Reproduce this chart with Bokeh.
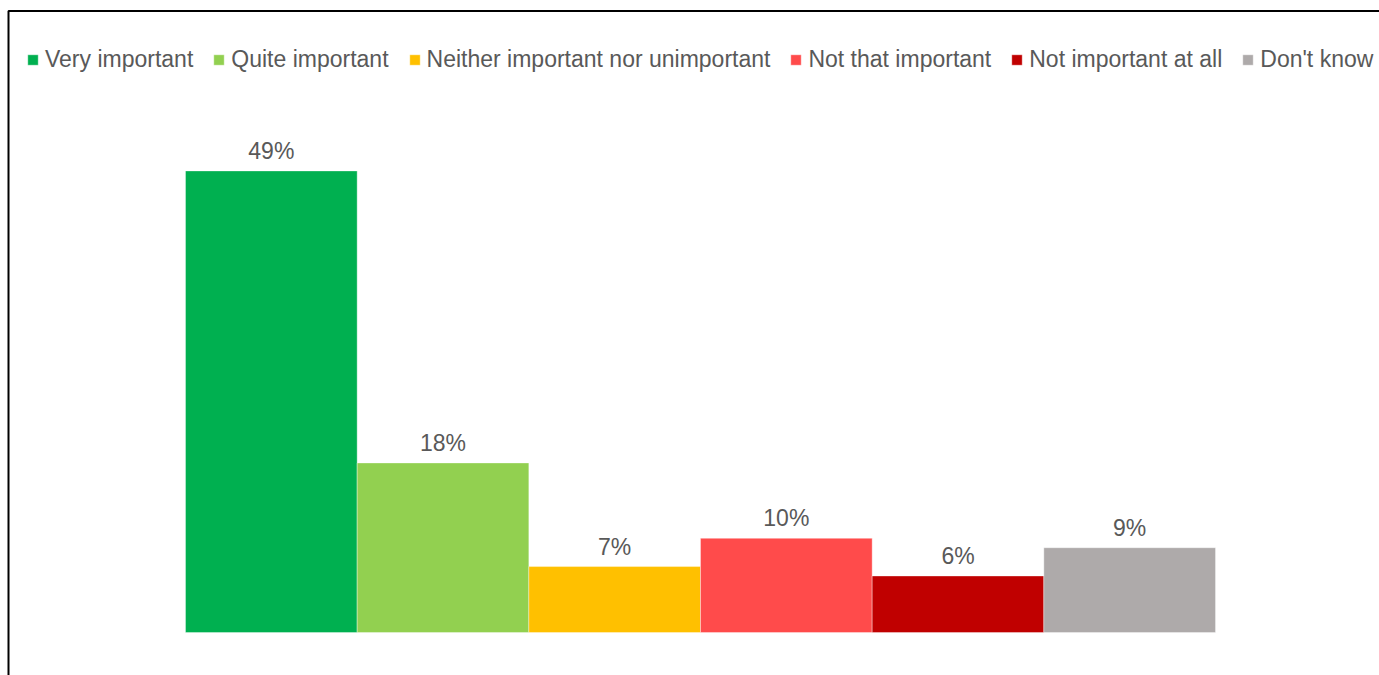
from bokeh.plotting import figure
from bokeh.models import ColumnDataSource, Range1d, Legend, LegendItem, LabelSet, BoxAnnotation
from bokeh.core.properties import value
from bokeh.embed import file_html
from bokeh.resources import INLINE

# Survey answers and their shares (%)
categories = ["Very important", "Quite important", "Neither important nor unimportant",
              "Not that important", "Not important at all", "Don't know"]
shares = [49, 18, 7, 10, 6, 9]
colors = ["#00B050", "#92D050", "#FFC000", "#FF4B4B", "#C00000", "#AEAAAA"]

W, H = 1379, 675
FONT = "Liberation Sans"
FONT_SIZE = "23px"
TEXT_COLOR = "#595959"

# layout in pixels: bars span BAR_L..BAR_R, baseline at BASE, scale PX_PCT per percent
BAR_L, BAR_R, BASE, PX_PCT = 185, 1215, 632, 9.42
n = len(categories)
px_unit = (BAR_R - BAR_L) / n
x0 = -0.5 - BAR_L / px_unit
x1 = n - 0.5 + (W - BAR_R) / px_unit
y1 = BASE / PX_PCT
y0 = -(H - BASE) / PX_PCT

source = ColumnDataSource(dict(
    x=list(range(n)),
    share=shares,
    cat=categories,
    color=colors,
    label=[f"{v}%" for v in shares],
))

p = figure(width=W, height=H, output_backend="svg", toolbar_location=None,
           x_range=Range1d(x0, x1), y_range=Range1d(y0, y1),
           min_border=0, min_border_left=0, min_border_right=0,
           min_border_top=0, min_border_bottom=0)
p.axis.visible = False
p.grid.visible = False
p.outline_line_color = None
p.background_fill_color = "white"
p.border_fill_color = "white"

bars = p.vbar(x="x", top="share", bottom=0, width=1.0, source=source,
              fill_color="color", line_color="white", line_width=0.6, line_alpha=0.6)

labels = LabelSet(x="x", y="share", text="label", source=source,
                  text_align="center", text_baseline="bottom", y_offset=7,
                  text_font=value(FONT), text_font_size=value(FONT_SIZE),
                  text_color=value(TEXT_COLOR))
p.add_layout(labels)

# chart frame: left and top edges (right/bottom run off the canvas)
frame_box = BoxAnnotation(left=x0 + 8 / px_unit, top=y1 - 10.5 / PX_PCT,
                          right=x1 + 5, bottom=y0 - 5,
                          fill_alpha=0, line_color="black", line_alpha=1.0, line_width=2)
p.add_layout(frame_box)

legend = Legend(orientation="horizontal")
legend.items = [LegendItem(label=categories[i], renderers=[bars], index=i) for i in range(n)]
legend.location = (26, H - 73)
legend.glyph_width = 13
legend.glyph_height = 13
legend.label_standoff = 6
legend.spacing = 19
legend.padding = 0
legend.margin = 0
legend.border_line_color = None
legend.background_fill_alpha = 0
legend.label_text_font = FONT
legend.label_text_font_size = FONT_SIZE
legend.label_text_color = TEXT_COLOR
p.add_layout(legend)

open("out.html", "w").write(file_html(p, INLINE))
